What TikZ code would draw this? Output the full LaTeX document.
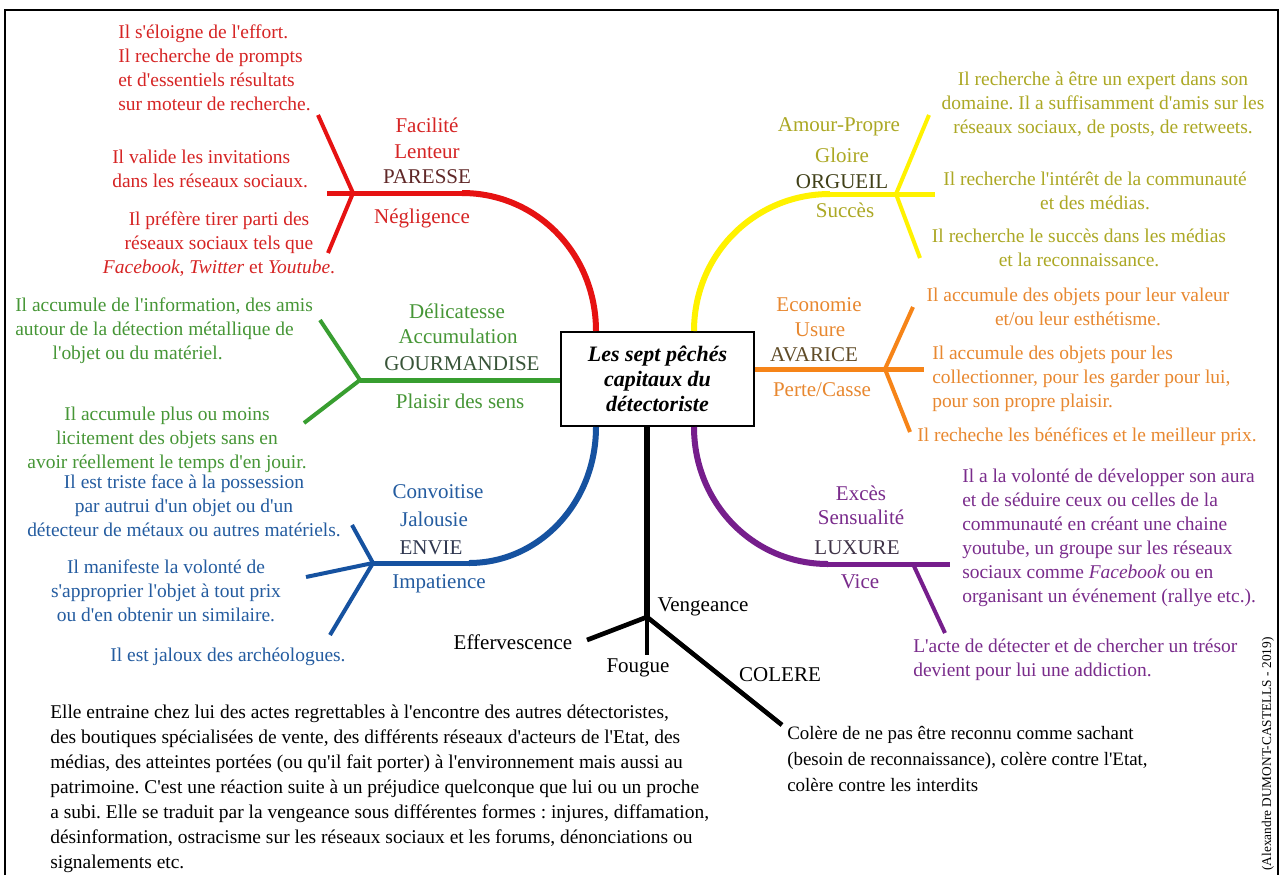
\documentclass[tikz,border=0pt]{standalone}
\usepackage{fontspec}
\setmainfont{Liberation Serif}
\newfontfamily\lib{Liberation Serif}
\usetikzlibrary{calc}
\definecolor{cRed}{RGB}{230,18,18}
\definecolor{tRed}{RGB}{214,36,36}
\definecolor{kRed}{RGB}{96,40,40}
\definecolor{cGreen}{RGB}{56,158,48}
\definecolor{tGreen}{RGB}{70,150,54}
\definecolor{kGreen}{RGB}{56,84,56}
\definecolor{cBlue}{RGB}{22,82,160}
\definecolor{tBlue}{RGB}{36,92,160}
\definecolor{kBlue}{RGB}{48,56,80}
\definecolor{cYellow}{RGB}{255,242,0}
\definecolor{tYellow}{RGB}{172,168,36}
\definecolor{kYellow}{RGB}{64,64,24}
\definecolor{cOrange}{RGB}{246,132,24}
\definecolor{tOrange}{RGB}{232,136,48}
\definecolor{kOrange}{RGB}{96,76,40}
\definecolor{cPurple}{RGB}{118,30,140}
\definecolor{tPurple}{RGB}{122,44,140}
\definecolor{kPurple}{RGB}{64,52,72}
\begin{document}
\frenchspacing
\begin{tikzpicture}[x=0.75pt,y=-0.75pt,
  desc/.style={font=\lib\fontsize{14.6}{18}\selectfont, inner sep=0pt},
  lab/.style={font=\lib\fontsize{15.75}{19}\selectfont, inner sep=0pt},
  body/.style={font=\lib\fontsize{14.6}{18.7}\selectfont, inner sep=0pt, align=left},
  arcline/.style={line width=4.5pt},
  stemline/.style={line width=3.75pt},
  twig/.style={line width=3pt},
]
\useasboundingbox (0,0) rectangle (1281,875);
\fill[white] (0,0) rectangle (1281,875);
% frame
\coordinate (frBL) at (5,875);
\coordinate (frTL) at (5,10);
\coordinate (frTR) at (1278,10);
\coordinate (frBR) at (1278,875);
\draw[line width=1.8pt] (frBL) -- (frTL) -- (frTR) -- (frBR);

% centre
\node[draw, line width=1.5pt, minimum width=144.75pt, minimum height=70.5pt, inner sep=0pt,
  align=center, font=\lib\bfseries\itshape\fontsize{16.5}{19}\selectfont] (title) at (657.5,379)
  {Les sept pêchés\\capitaux du\\détectoriste};

% ---------------- PARESSE (red)
\coordinate (redStart) at ($(title.north west)+(36,0)$);
\coordinate (redBend) at (462,193);
\coordinate (redFork) at (353,193);
\coordinate (redTail) at (327,193);
\coordinate (redUp) at (318,115);
\coordinate (redDown) at (328,253);
\draw[cRed, arcline] (redStart) .. controls +(0,-77) and +(75,0) .. (redBend);
\draw[cRed, stemline] (redBend) -- (redFork) -- (redTail);
\draw[cRed, twig] (redUp) -- (redFork) -- (redDown);
\node[lab, tRed] (pFac) at (427,125) {Facilité};
\node[lab, tRed] (pLen) at (427,152) {Lenteur};
\node[lab, kRed] (pKey) at (427,177) {PARESSE};
\node[lab, tRed] (pNeg) at (422,218) {Négligence};
\node[desc, tRed, anchor=west, align=left] (pD1) at (118,68)
  {Il s'éloigne de l'effort.\\Il recherche de prompts\\et d'essentiels résultats\\sur moteur de recherche.};
\node[desc, tRed, anchor=west, align=left] (pD2) at (112,169)
  {Il valide les invitations\\dans les réseaux sociaux.};
\node[desc, tRed, align=center] (pD3) at (219,244)
  {Il préfère tirer parti des\\réseaux sociaux tels que\\\textit{Facebook}, \textit{Twitter} et \textit{Youtube}.};

% ---------------- GOURMANDISE (green)
\coordinate (grnStart) at ($(title.west)+(0,1)$);
\coordinate (grnFork) at (360,380);
\coordinate (grnUp) at (320,320);
\coordinate (grnDown) at (304,423);
\draw[cGreen, stemline] (grnStart) -- (grnFork);
\draw[cGreen, twig] (grnUp) -- (grnFork) -- (grnDown);
\node[lab, tGreen] (gDel) at (457,311) {Délicatesse};
\node[lab, tGreen] (gAcc) at (458,336) {Accumulation};
\node[lab, kGreen] (gKey) at (462,364) {GOURMANDISE};
\node[lab, tGreen] (gPla) at (460,401) {Plaisir des sens};
\node[desc, tGreen, anchor=west, align=left] (gD1) at (15,331)
  {Il accumule de l'information, des amis\\autour de la détection métallique de\\\hspace*{28pt}l'objet ou du matériel.};
\node[desc, tGreen, align=center] (gD2) at (167,440)
  {Il accumule plus ou moins\\licitement des objets sans en\\avoir réellement le temps d'en jouir.};

% ---------------- ENVIE (blue)
\coordinate (bluStart) at ($(title.south west)+(36,0)$);
\coordinate (bluBend) at (469,563);
\coordinate (bluFork) at (373,563);
\coordinate (bluUp) at (352,525);
\coordinate (bluLeft) at (306,577);
\coordinate (bluDown) at (330,635);
\draw[cBlue, arcline] (bluStart) .. controls +(0,76) and +(70,0) .. (bluBend);
\draw[cBlue, stemline] (bluBend) -- (bluFork);
\draw[cBlue, twig] (bluUp) -- (bluFork) -- (bluDown);
\draw[cBlue, twig] (bluFork) -- (bluLeft);
\node[lab, tBlue] (eCon) at (438,492) {Convoitise};
\node[lab, tBlue] (eJal) at (434,519) {Jalousie};
\node[lab, kBlue] (eKey) at (431,548) {ENVIE};
\node[lab, tBlue] (eImp) at (439,584) {Impatience};
\node[desc, tBlue, align=center] (eD1) at (184,506)
  {Il est triste face à la possession\\par autrui d'un objet ou d'un\\détecteur de métaux ou autres matériels.};
\node[desc, tBlue, align=center] (eD2) at (166,591)
  {Il manifeste la volonté de\\s'approprier l'objet à tout prix\\ou d'en obtenir un similaire.};
\node[desc, tBlue] (eD3) at (228,657) {Il est jaloux des archéologues.};

% ---------------- ORGUEIL (yellow)
\coordinate (yelStart) at ($(title.north east)+(-61,0)$);
\coordinate (yelBend) at (830,194);
\coordinate (yelFork) at (896,194);
\coordinate (yelTail) at (935,194);
\coordinate (yelUp) at (929,115);
\coordinate (yelDown) at (920,258);
\draw[cYellow, arcline] (yelStart) .. controls +(0,-77) and +(-75,0) .. (yelBend);
\draw[cYellow, stemline] (yelBend) -- (yelFork) -- (yelTail);
\draw[cYellow, twig] (yelUp) -- (yelFork) -- (yelDown);
\node[lab, tYellow] (oAmo) at (839,127) {Amour-Propre};
\node[lab, tYellow] (oGlo) at (842,155) {Gloire};
\node[lab, kYellow] (oKey) at (842,182) {ORGUEIL};
\node[lab, tYellow] (oSuc) at (845,210) {Succès};
\node[desc, tYellow, align=center] (oD1) at (1103,105)
  {Il recherche à être un expert dans son\\domaine. Il a suffisamment d'amis sur les\\réseaux sociaux, de posts, de retweets.};
\node[desc, tYellow, align=center] (oD2) at (1095,191)
  {Il recherche l'intérêt de la communauté\\et des médias.};
\node[desc, tYellow, align=center] (oD3) at (1079,248)
  {Il recherche le succès dans les médias\\et la reconnaissance.};

% ---------------- AVARICE (orange)
\coordinate (oraStart) at ($(title.east)+(0,-10)$);
\coordinate (oraFork) at (885,369);
\coordinate (oraTail) at (924,369);
\coordinate (oraUp) at (913,307);
\coordinate (oraDown) at (910,432);
\draw[cOrange, stemline] (oraStart) -- (oraFork) -- (oraTail);
\draw[cOrange, twig] (oraUp) -- (oraFork) -- (oraDown);
\node[lab, tOrange] (aEco) at (819,305) {Economie};
\node[lab, tOrange] (aUsu) at (820,330) {Usure};
\node[lab, kOrange] (aKey) at (814,355) {AVARICE};
\node[lab, tOrange] (aPer) at (822,390) {Perte/Casse};
\node[desc, tOrange, align=center] (aD1) at (1078,307)
  {Il accumule des objets pour leur valeur\\et/ou leur esthétisme.};
\node[desc, tOrange, anchor=west, align=left] (aD2) at (932,379)
  {Il accumule des objets pour les\\collectionner, pour les garder pour lui,\\pour son propre plaisir.};
\node[desc, tOrange, anchor=west] (aD3) at (917,437) {Il recheche les bénéfices et le meilleur prix.};

% ---------------- LUXURE (purple)
\coordinate (purStart) at ($(title.south east)+(-61,0)$);
\coordinate (purBend) at (828,564);
\coordinate (purFork) at (913,564);
\coordinate (purTail) at (950,564);
\coordinate (purDown) at (945,633);
\draw[cPurple, arcline] (purStart) .. controls +(0,76) and +(-75,0) .. (purBend);
\draw[cPurple, stemline] (purBend) -- (purTail);
\draw[cPurple, twig] (purFork) -- (purDown);
\node[lab, tPurple] (lExc) at (861,493) {Excès};
\node[lab, tPurple] (lSen) at (861,517) {Sensualité};
\node[lab, kPurple] (lKey) at (857,548) {LUXURE};
\node[lab, tPurple] (lVic) at (860,582) {Vice};
\node[desc, tPurple, anchor=west, align=left] (lD1) at (962,538)
  {Il a la volonté de développer son aura\\et de séduire ceux ou celles de la\\communauté en créant une chaine\\youtube, un groupe sur les réseaux\\sociaux comme \textit{Facebook} ou en\\organisant un événement (rallye etc.).};
\node[desc, tPurple, anchor=west, align=left] (lD2) at (913,660)
  {L'acte de détecter et de chercher un trésor\\devient pour lui une addiction.};

% ---------------- COLERE (black)
\coordinate (blkStart) at ($(title.south)+(-10.5,0)$);
\coordinate (blkFork) at (647,617);
\coordinate (blkDown) at (647,655);
\coordinate (blkLeft) at (587,640);
\coordinate (blkRight) at (782,725);
\draw[line width=4.5pt] (blkStart) -- (blkFork);
\draw[line width=3.5pt] (blkFork) -- (blkDown);
\draw[line width=3.5pt] (blkLeft) -- (blkFork) -- (blkRight);
\node[lab] (cVen) at (703,607) {Vengeance};
\node[lab] (cEff) at (513,642) {Effervescence};
\node[lab] (cFou) at (638,668) {Fougue};
\node[lab] (cKey) at (780,675) {COLERE};
\node[body, anchor=west, font=\lib\fontsize{14.2}{19.5}\selectfont] (cD1) at (787,759)
  {Colère de ne pas être reconnu comme sachant\\(besoin de reconnaissance), colère contre l'Etat,\\colère contre les interdits};
\node[body, anchor=north west] (cD2) at (50,705)
  {Elle entraine chez lui des actes regrettables à l'encontre des autres détectoristes,\\
   des boutiques spécialisées de vente, des différents réseaux d'acteurs de l'Etat, des\\
   médias, des atteintes portées (ou qu'il fait porter) à l'environnement mais aussi au\\
   patrimoine. C'est une réaction suite à un préjudice quelconque que lui ou un proche\\
   a subi. Elle se traduit par la vengeance sous différentes formes : injures, diffamation,\\
   désinformation, ostracisme sur les réseaux sociaux et les forums, dénonciations ou\\
   signalements etc.};

% credit
\node[font=\lib\fontsize{10}{12}\selectfont, inner sep=0pt, rotate=90] (credit) at (1268,754)
  {(Alexandre DUMONT-CASTELLS - 2019)};
\end{tikzpicture}
\end{document}
